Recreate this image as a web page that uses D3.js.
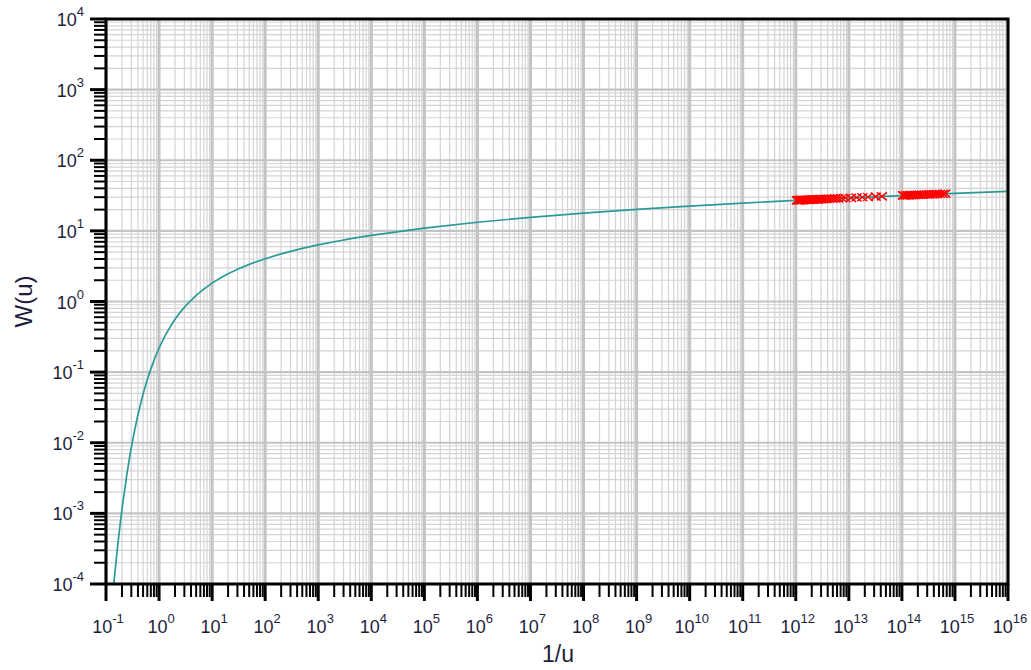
<!DOCTYPE html>
<html>
<head>
<meta charset="utf-8">
<script src="https://cdn.jsdelivr.net/npm/d3@7"></script>
<style>
  body { margin: 0; background: #fff; }
  svg text { font-family: Arial, "Liberation Sans", sans-serif; fill: #1e1e3c; }
</style>
</head>
<body>
<div id="chart"></div>
<script>

// tick decades (powers of ten shown on each axis)
var xExponents = [-1, 0, 1, 2, 3, 4, 5, 6, 7, 8, 9, 10, 11, 12, 13, 14, 15, 16];
var yExponents = [-4, -3, -2, -1, 0, 1, 2, 3, 4];

// type curve: 1/u and W(u)
var curveInvU = [0.125, 0.1429, 0.1667, 0.2, 0.25, 0.2857, 0.3333, 0.4, 0.5, 0.5556,
  0.6667, 0.8333, 1, 1.25, 1.667, 2, 2.5, 3.333, 5, 6.667, 10, 14.29, 20, 33.33, 50,
  100, 200, 500, 1e3, 2e3, 5e3, 1e4, 1e5, 1e6, 1e7, 1e8, 1e9, 1e10, 1e11, 1e12,
  1e13, 1e14, 1e15, 1e16];
var curveW = [3.767e-5, 1.155e-4, 3.601e-4, 1.148e-3, 3.779e-3, 6.970e-3, 1.305e-2,
  2.491e-2, 4.890e-2, 6.471e-2, 0.1000, 0.1584, 0.2194, 0.3106, 0.4544, 0.5598,
  0.7024, 0.9057, 1.2227, 1.4645, 1.8229, 2.1508, 2.4679, 2.9591, 3.3547, 4.0379,
  4.7261, 5.6394, 6.3315, 7.0242, 7.9402, 8.6332, 10.9357, 13.2383, 15.5409,
  17.8435, 20.146, 22.4486, 24.7512, 27.0538, 29.3564, 31.659, 33.9616, 36.2642];

// observed points (red crosses)
var obsInvU = [1.05e12, 1.1e12, 1.15e12, 1.2e12, 1.25e12, 1.3e12, 1.35e12, 1.4e12,
  1.5e12, 1.6e12, 1.7e12, 1.8e12, 1.9e12, 2.0e12, 2.1e12, 2.2e12, 2.35e12, 2.5e12,
  2.65e12, 2.8e12, 3.0e12, 3.2e12, 3.5e12, 3.8e12, 4.2e12, 4.8e12, 5.5e12, 6.3e12,
  7.4e12, 8.6e12, 1.1e13, 1.4e13, 1.8e13, 2.3e13, 3.2e13, 4.2e13,
  1.05e14, 1.1e14, 1.2e14, 1.3e14, 1.4e14, 1.5e14, 1.65e14, 1.8e14, 2.0e14, 2.2e14,
  2.4e14, 2.7e14, 3.0e14, 3.3e14, 3.7e14, 4.1e14, 4.6e14, 5.2e14, 5.9e14, 6.6e14];
var obsW = [27.0, 27.2, 27.1, 27.3, 27.2, 27.4, 27.3, 27.5, 27.4, 27.6, 27.5, 27.7,
  27.6, 27.8, 27.7, 27.9, 27.8, 28.0, 27.9, 28.1, 28.2, 28.1, 28.3, 28.4, 28.5,
  28.6, 28.8, 28.9, 29.0, 29.2, 29.4, 29.7, 29.9, 30.2, 30.5, 30.8,
  31.8, 31.7, 31.9, 31.8, 32.0, 32.1, 32.1, 32.3, 32.3, 32.5, 32.5, 32.7, 32.7,
  32.9, 32.9, 33.1, 33.2, 33.3, 33.4, 33.6];

var margin = {top: 19, right: 23, bottom: 86, left: 106},
    width = 1031 - margin.left - margin.right,
    height = 670 - margin.top - margin.bottom;

var x = d3.scaleLog()
    .domain([Math.pow(10, xExponents[0]), Math.pow(10, xExponents[xExponents.length - 1])])
    .range([0, width]);
var y = d3.scaleLog()
    .domain([Math.pow(10, yExponents[0]), Math.pow(10, yExponents[yExponents.length - 1])])
    .range([height, 0]);

var svg = d3.select("#chart").append("svg")
    .attr("width", 1031)
    .attr("height", 670)
  .append("g")
    .attr("transform", "translate(" + margin.left + "," + margin.top + ")");

// major and minor tick values
function majors(exps) { return exps.map(function(e) { return Math.pow(10, e); }); }
function minors(exps) {
  var out = [];
  exps.slice(0, -1).forEach(function(e) {
    for (var k = 2; k <= 9; k++) out.push(k * Math.pow(10, e));
  });
  return out;
}
var xMaj = majors(xExponents), xMin = minors(xExponents);
var yMaj = majors(yExponents), yMin = minors(yExponents);

// grid
var grid = svg.append("g");
grid.selectAll(".vmin").data(xMin).enter().append("line")
    .attr("x1", function(d) { return x(d); }).attr("x2", function(d) { return x(d); })
    .attr("y1", 0).attr("y2", height)
    .attr("stroke", "#d4d4d4").attr("stroke-width", 1.2);
grid.selectAll(".hmin").data(yMin).enter().append("line")
    .attr("y1", function(d) { return y(d); }).attr("y2", function(d) { return y(d); })
    .attr("x1", 0).attr("x2", width)
    .attr("stroke", "#d4d4d4").attr("stroke-width", 1.2);
grid.selectAll(".vmaj").data(xMaj).enter().append("line")
    .attr("x1", function(d) { return x(d); }).attr("x2", function(d) { return x(d); })
    .attr("y1", 0).attr("y2", height)
    .attr("stroke", "#c4c4c4").attr("stroke-width", 3);
grid.selectAll(".hmaj").data(yMaj).enter().append("line")
    .attr("y1", function(d) { return y(d); }).attr("y2", function(d) { return y(d); })
    .attr("x1", 0).attr("x2", width)
    .attr("stroke", "#c4c4c4").attr("stroke-width", 2.2);

svg.append("clipPath").attr("id", "plotclip")
  .append("rect").attr("width", width).attr("height", height);

// type curve
var curveData = curveInvU.map(function(v, i) { return {iu: v, w: curveW[i]}; });
var line = d3.line()
    .x(function(d) { return x(d.iu); })
    .y(function(d) { return y(d.w); });
svg.append("path")
    .datum(curveData)
    .attr("clip-path", "url(#plotclip)")
    .attr("fill", "none")
    .attr("stroke", "#2a9a98")
    .attr("stroke-width", 1.7)
    .attr("d", line);

// observed points
var obsData = obsInvU.map(function(v, i) { return {iu: v, w: obsW[i]}; });
svg.selectAll(".obs").data(obsData).enter().append("path")
    .attr("transform", function(d) { return "translate(" + x(d.iu) + "," + y(d.w) + ")"; })
    .attr("d", "M-5,-4L5,4M-5,4L5,-4")
    .attr("fill", "none")
    .attr("stroke", "#ff0000")
    .attr("stroke-width", 1.5);

// frame
svg.append("rect")
    .attr("width", width).attr("height", height)
    .attr("fill", "none").attr("stroke", "#000").attr("stroke-width", 3);

// x ticks
svg.selectAll(".xtmin").data(xMin).enter().append("line")
    .attr("x1", function(d) { return x(d); }).attr("x2", function(d) { return x(d); })
    .attr("y1", height).attr("y2", height + 13)
    .attr("stroke", "#000").attr("stroke-width", 2);
svg.selectAll(".xtmaj").data(xMaj).enter().append("line")
    .attr("x1", function(d) { return x(d); }).attr("x2", function(d) { return x(d); })
    .attr("y1", height).attr("y2", height + 17)
    .attr("stroke", "#000").attr("stroke-width", 3);

// y ticks
svg.selectAll(".ytmin").data(yMin).enter().append("line")
    .attr("y1", function(d) { return y(d); }).attr("y2", function(d) { return y(d); })
    .attr("x1", 0).attr("x2", -12)
    .attr("stroke", "#000").attr("stroke-width", 2);
svg.selectAll(".ytmaj").data(yMaj).enter().append("line")
    .attr("y1", function(d) { return y(d); }).attr("y2", function(d) { return y(d); })
    .attr("x1", 0).attr("x2", -16)
    .attr("stroke", "#000").attr("stroke-width", 3);

// x tick labels
var xl = svg.selectAll(".xlab").data(xExponents).enter().append("text")
    .attr("x", function(e) { return x(Math.pow(10, e)) + 2; })
    .attr("y", height + 49)
    .attr("text-anchor", "middle")
    .style("font-size", "18px");
xl.append("tspan").text("10");
xl.append("tspan").attr("dy", -10).style("font-size", "13px").text(function(e) { return e; });

// y tick labels
var yl = svg.selectAll(".ylab").data(yExponents).enter().append("text")
    .attr("x", -22)
    .attr("y", function(e) { return y(Math.pow(10, e)) + 7; })
    .attr("text-anchor", "end")
    .style("font-size", "18px");
yl.append("tspan").text("10");
yl.append("tspan").attr("dy", -10).style("font-size", "13px").text(function(e) { return e; });

// axis titles
svg.append("text")
    .attr("x", width / 2 + 1)
    .attr("y", height + 78)
    .attr("text-anchor", "middle")
    .style("font-size", "23px")
    .text("1/u");

svg.append("text")
    .attr("transform", "rotate(-90)")
    .attr("x", -height / 2)
    .attr("y", -margin.left + 32)
    .attr("text-anchor", "middle")
    .style("font-size", "24px")
    .text("W(u)");

</script>
</body>
</html>
